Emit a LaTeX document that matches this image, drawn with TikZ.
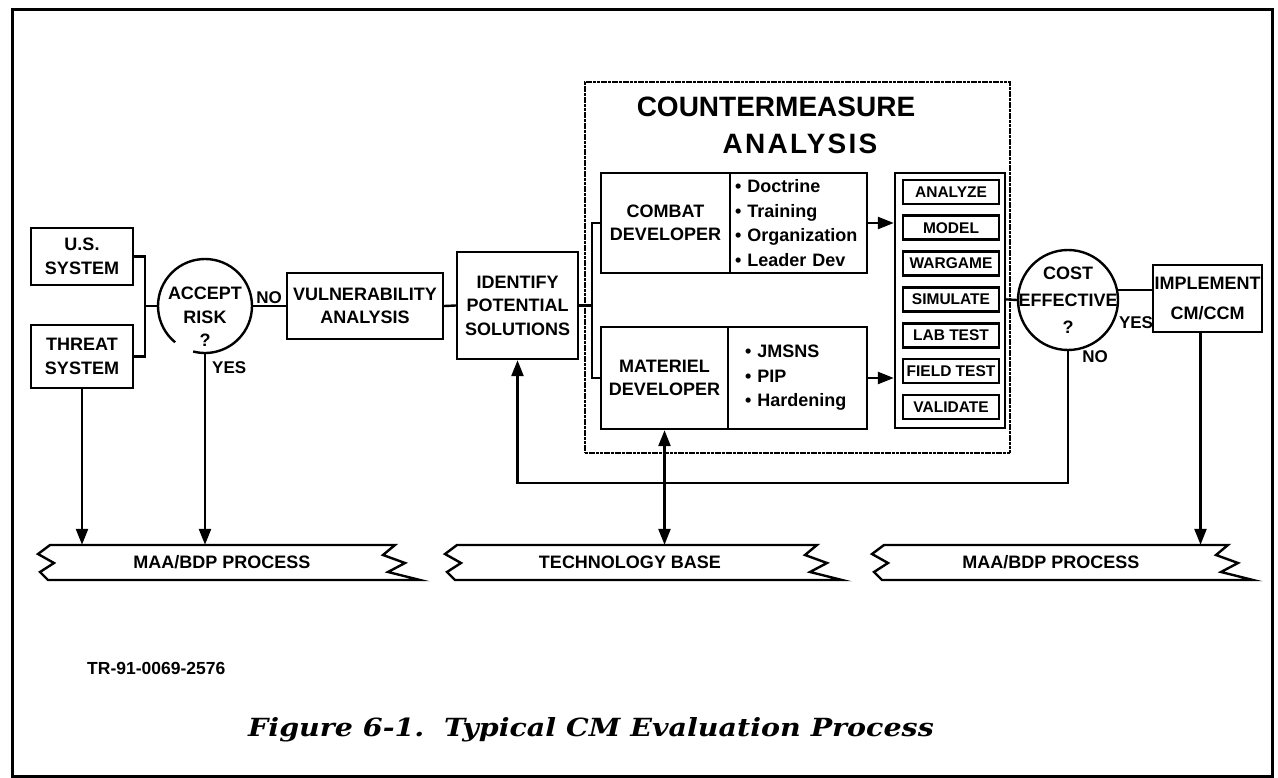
\documentclass[tikz,border=0pt]{standalone}
\usepackage{fontspec}
\setmainfont{Liberation Sans}
\newfontfamily\capfont{DejaVu Serif}
\usetikzlibrary{arrows.meta}
\begin{document}
\begin{tikzpicture}[x=1pt,y=-1pt,
  lw/.style={line width=2.4pt},
  box/.style={draw,line width=2.4pt,inner sep=0pt,align=center,font=\fontsize{18}{23.5}\selectfont\bfseries},
  txt/.style={inner sep=0pt,align=center,font=\fontsize{18}{23.5}\selectfont\bfseries},
  bul/.style={draw,line width=2.4pt,inner sep=0pt,align=left,font=\fontsize{18}{24.4}\selectfont\bfseries},
  item/.style={draw,line width=2.6pt,inner sep=0pt,minimum width=96,minimum height=24,font=\fontsize{15.5}{16}\selectfont\bfseries},
  lbl/.style={inner sep=1pt,font=\fontsize{17}{20}\selectfont\bfseries},
  tip/.tip={Triangle[length=16pt,width=12pt]},
  arr/.style={line width=2.4pt,-tip},
  dblarr/.style={line width=2.4pt,tip-tip},
  bantext/.style={inner sep=0pt,minimum height=35,font=\fontsize{18}{20}\selectfont\bfseries},
  banline/.style={line width=2.4pt,line join=miter}
]
\useasboundingbox (0,0) rectangle (1278,778);
\draw[line width=3pt] (12,10) rectangle (1272,776);

% left part
\node[box,minimum width=102,minimum height=57] (us) at (82,256.5) {U.S.\\SYSTEM};
\node[box,minimum width=102,minimum height=63] (threat) at (82,356.5) {THREAT\\SYSTEM};
\coordinate (j1) at (145,306);
\draw[lw] (us.east) -| (j1) |- (threat.east);
\node[circle,minimum size=94,inner sep=0pt] (accept) at (205,306) {};
\draw[lw] (accept.center) ++(129.5:47) arc[start angle=129.5,end angle=464.6,radius=47];
\node[txt] (acctext) at (205,317) {ACCEPT\\RISK\\?};
\draw[lw] (j1) -- (accept.west);

\node[box,minimum width=156,minimum height=66] (vuln) at (365,306) {VULNERABILITY\\ANALYSIS};
\draw[lw] (accept.east) -- (vuln.west) node[lbl,midway,above] (no1) {NO};
\node[box,minimum width=121,minimum height=107] (ident) at (517.5,305.5) {IDENTIFY\\POTENTIAL\\SOLUTIONS};
\draw[lw] (vuln.east) -- (ident.west);

% countermeasure analysis
\node[draw,line width=2.6pt,dash pattern=on 3pt off 0.7pt,minimum width=425,minimum height=371,inner sep=0pt] (cma) at (797.5,267.5) {};
\node[inner sep=0pt,font=\fontsize{28}{30}\selectfont\bfseries] (t1) at (776,107) {COUNTERMEASURE};
\node[inner sep=0pt,font=\fontsize{28}{30}\selectfont\bfseries\addfontfeatures{LetterSpace=8}] (t2) at (800,144) {ANALYSIS};

\node[box,minimum width=129,minimum height=100] (cdl) at (665.5,223) {COMBAT\\DEVELOPER};
\node[bul,minimum width=137,minimum height=100,text width=127] (cdr) at (798.5,223) {• Doctrine\\• Training\\• Organization\\• Leader Dev};
\node[box,minimum width=127,minimum height=102] (mdl) at (664.5,378) {MATERIEL\\DEVELOPER};
\node[bul,minimum width=139,minimum height=102,text width=105] (mdr) at (797.5,378) {• JMSNS\\• PIP\\• Hardening};
\coordinate (j2) at (592,305.5);
\draw[lw] (cdl.west) -| (j2) |- (mdl.west);
\draw[lw] (ident.east) -- (j2);

\node[draw,line width=2.4pt,minimum width=110,minimum height=255,inner sep=0pt] (list) at (950,300.5) {};
\foreach \i/\t in {0/ANALYZE,1/MODEL,2/WARGAME,3/SIMULATE,4/LAB TEST,5/FIELD TEST,6/VALIDATE}
  \node[item] (it\i) at (951,192+35.8*\i) {\t};
\draw[arr] (cdr.east) -- (list.west |- cdr.east);
\draw[arr] (mdr.east) -- (list.west |- mdr.east);

% right part
\node[circle,draw,line width=2.4pt,minimum size=100,inner sep=0pt] (cost) at (1068,300) {};
\node[txt,font=\fontsize{18}{27}\selectfont\bfseries] (costtext) at (1068,300) {COST\\EFFECTIVE\\?};
\draw[lw] (list.east |- it3) -- (cost.west);
\node[box,minimum width=109,minimum height=67,font=\fontsize{18}{30}\selectfont\bfseries] (impl) at (1207.5,298.5) {IMPLEMENT\\CM/CCM};
\draw[lw] (cost.11.5) -- (impl.west |- cost.11.5);
\node[lbl] (yes2) at (1136,323) {YES};
\node[lbl] (no2) at (1095,357) {NO};

% banners
\node[bantext] (b1) at (222,562.5) {MAA/BDP PROCESS};
\node[bantext] (b2) at (630,562.5) {TECHNOLOGY BASE};
\node[bantext] (b3) at (1051,562.5) {MAA/BDP PROCESS};
\foreach \L/\R in {38/420,445/842,872/1253}{
  \draw[banline] (\L+12,545) -- (\R-25,545) -- (\R-37,555) -- (\R-15,563) -- (\R-32,572) -- (\R,580)
     -- (\L+10,580) -- (\L+2,572) -- (\L+16,563) -- (\L,554) -- cycle;
}

% connectors to banners
\draw[arr] (threat.south) -- (threat.south |- b1.north);
\draw[arr] (accept.south) -- (accept.south |- b1.north);
\node[lbl,anchor=west] (yes1) at (211,368) {YES};
\draw[arr] ([xshift=-7pt]impl.south) -- ([xshift=-7pt]impl.south |- b3.north);
\draw[dblarr] (mdl.south) -- (mdl.south |- b2.north);
\coordinate (hline) at (0,483);
\draw[arr] (cost.south) |- (ident.south |- hline) -- (ident.south);

% texts
\node[anchor=west,inner sep=0pt,font=\fontsize{17.5}{20}\selectfont\bfseries] (tr) at (87,668) {TR-91-0069-2576};
\node[inner sep=0pt,font=\capfont\bfseries\itshape\fontsize{25}{28}\selectfont] (cap) at (591,730) {\scalebox{1.14}[1]{Figure 6-1.\ \ Typical CM Evaluation Process}};
\end{tikzpicture}
\end{document}
